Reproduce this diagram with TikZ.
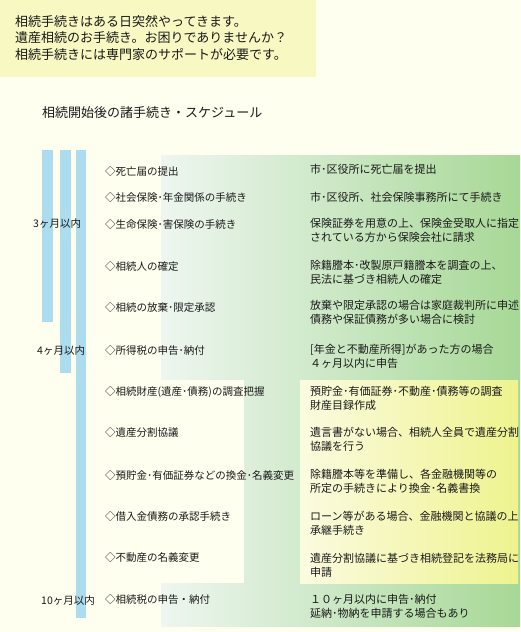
\documentclass[tikz,border=0pt]{standalone}
\usepackage{fontspec}
\setmainfont{Noto Sans CJK JP}
\usepackage{xcolor}
\usepackage{tikz}
\usetikzlibrary{positioning}
\definecolor{paperx}{HTML}{FFFFF0}
\definecolor{introbg}{HTML}{F8F8C2}
\definecolor{barx}{HTML}{ABDDEE}
\definecolor{greenl}{HTML}{EEF6F0}
\definecolor{greenr}{HTML}{A7D896}
\definecolor{yelll}{HTML}{FBFBE0}
\definecolor{yellr}{HTML}{EEF38E}
\definecolor{inkx}{HTML}{1A1A1A}
\tikzset{
  item/.style={anchor=west,inner sep=0pt,font=\fontsize{10.5}{14}\selectfont,text=inkx},
  memo/.style={item,align=left,font=\fontsize{11}{14}\selectfont},
  term/.style={item},
  bar/.style={fill=barx,draw=none}
}

\begin{document}
\begin{tikzpicture}[x=1pt,y=-1pt]
\useasboundingbox (0,0) rectangle (520,632);
\fill[paperx] (0,0) rectangle (520,632);
% intro box
\fill[introbg] (0,0) rectangle (316,77);
\node[memo,font=\fontsize{13}{16.3}\selectfont] (intro) at (15,38) {相続手続きはある日突然やってきます。\\遺産相続のお手続き。お困りでありませんか？\\相続手続きには専門家のサポートが必要です。};
\node[item,font=\fontsize{13}{16}\selectfont] (title) at (42,113) {相続開始後の諸手続き・スケジュール};
% background bands
\shade[left color=greenl,right color=greenr] (161,155) rectangle (520,626);
\fill[paperx] (161,380) rectangle (244,583);
\shade[left color=yelll,right color=yellr] (300,380) rectangle (518,583);
% period bars
\fill[bar] (42,150) rectangle (53,322);
\fill[bar] (60,150) rectangle (71,373);
\fill[bar] (76,150) rectangle (86,618);
\node[term] (m3) at (33,224) {3ヶ月以内};
\node[term] (m4) at (37,351) {4ヶ月以内};
\node[term] (m10) at (41,601) {10ヶ月以内};
% procedures
\node[item] (p1) at (105,172) {◇死亡届の提出};
\node[item] (p2) at (105,198) {◇社会保険･年金関係の手続き};
\node[item] (p3) at (105,225) {◇生命保険･害保険の手続き};
\node[item] (p4) at (105,267) {◇相続人の確定};
\node[item] (p5) at (105,308) {◇相続の放棄･限定承認};
\node[item] (p6) at (105,351) {◇所得税の申告･納付};
\node[item] (p7) at (105,392) {◇相続財産(遺産･債務)の調査把握};
\node[item] (p8) at (105,433) {◇遺産分割協議};
\node[item] (p9) at (105,476) {◇預貯金･有価証券などの換金･名義変更};
\node[item] (p10) at (105,517) {◇借入金債務の承認手続き};
\node[item] (p11) at (105,558) {◇不動産の名義変更};
\node[item] (p12) at (105,600) {◇相続税の申告・納付};
% notes
\node[memo] (n1) at (310,169) {市･区役所に死亡届を提出};
\node[memo] (n2) at (310,197) {市･区役所、社会保険事務所にて手続き};
\node[memo] (n3) at (310,230.5) {保険証券を用意の上、保険金受取人に指定\\されている方から保険会社に請求};
\node[memo] (n4) at (310,272.5) {除籍謄本･改製原戸籍謄本を調査の上、\\民法に基づき相続人の確定};
\node[memo] (n5) at (310,312.5) {放棄や限定承認の場合は家庭裁判所に申述\\債務や保証債務が多い場合に検討};
\node[memo] (n6) at (310,356.5) {[年金と不動産所得]があった方の場合\\４ヶ月以内に申告};
\node[memo] (n7) at (310,398.5) {預貯金･有価証券･不動産･債務等の調査\\財産目録作成};
\node[memo] (n8) at (310,439) {遺言書がない場合、相続人全員で遺産分割\\協議を行う};
\node[memo] (n9) at (310,481.5) {除籍謄本等を準備し、各金融機関等の\\所定の手続きにより換金･名義書換};
\node[memo] (n10) at (310,523.5) {ローン等がある場合、金融機関と協議の上\\承継手続き};
\node[memo] (n11) at (310,565) {遺産分割協議に基づき相続登記を法務局に\\申請};
\node[memo] (n12) at (310,606) {１０ヶ月以内に申告･納付\\延納･物納を申請する場合もあり};
\end{tikzpicture}
\end{document}
